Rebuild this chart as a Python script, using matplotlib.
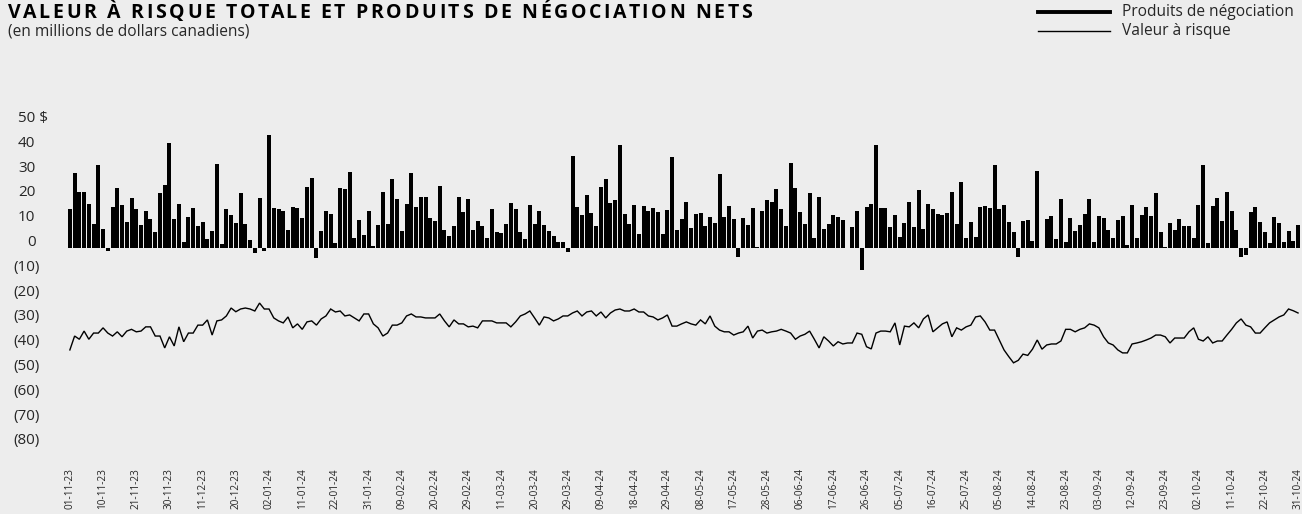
import matplotlib
matplotlib.use("Agg")
import matplotlib.pyplot as plt
import matplotlib.transforms as mtrans
from matplotlib.lines import Line2D
from matplotlib.font_manager import FontProperties
import numpy as np

plt.rcParams['font.family'] = ['Open Sans', 'DejaVu Sans']

# produits de négociation nets quotidiens (M$)
revenus = [
    15.5, 30, 22.4, 22.4, 17.5, 9.4, 33.2, 7.4, -1.3, 16.4,
    23.9, 17, 10.3, 19.9, 15.6, 9, 14.6, 11.4, 6.2, 21.9,
    25.1, 42, 11.4, 17.5, 2.2, 12.2, 15.9, 8.6, 10.2, 3.5,
    6.6, 33.6, 1.3, 15.6, 13, 9.8, 21.9, 9.4, 3, -2.2,
    19.9, -1.3, 45.3, 15.9, 15.6, 14.6, 7, 16.3, 15.9, 11.8,
    24.3, 28, -4.4, 6.6, 14.6, 13.4, 1.7, 23.9, 23.5, 30.4,
    3.8, 11, 5, 14.6, 0.5, 9, 22.3, 9.4, 27.6, 19.5,
    6.6, 17.5, 30, 16.3, 20.3, 20.3, 11.8, 10.6, 24.7, 7,
    4.6, 8.6, 20.3, 14.2, 19.5, 7, 10.6, 8.6, 3.8, 15.5,
    6.2, 5.8, 9.4, 17.9, 15.5, 6.2, 3.4, 17, 9.4, 14.6,
    9, 6.6, 4.6, 2.2, 2.2, -1.9, 36.8, 16.3, 13, 21.1,
    13.8, 8.6, 24.3, 27.6, 17.9, 19.1, 41.3, 13.4, 9.4, 17,
    5.4, 16.7, 14.6, 15.9, 14.2, 5.4, 15.1, 36.4, 7, 11.4,
    18.3, 7.8, 13.4, 13.8, 8.6, 12.2, 9.8, 29.6, 12.2, 16.7,
    11.4, -3.9, 11.8, 9, 15.9, 0.3, 14.6, 19.1, 18.3, 23.5,
    15.5, 8.6, 34, 23.9, 14.2, 9.4, 21.9, 3.8, 20.3, 7.4,
    9.4, 13, 12.2, 11, -0.2, 8.2, 14.6, -9, 16.3, 17.5,
    41.3, 15.9, 15.9, 8.2, 13, 4.2, 9.8, 18.3, 8.2, 23.1,
    7.4, 17.5, 15.5, 13.4, 13, 13.8, 22.3, 9.4, 26.3, 3.8,
    10.2, 4.2, 16.3, 16.7, 15.9, 33.2, 15.5, 17, 10.2, 6.2,
    -3.8, 10.6, 11, 2.6, 30.8, -0.2, 11.4, 12.6, 3.4, 19.5,
    2.2, 11.8, 6.6, 9, 13.4, 19.5, 2.2, 12.6, 11.8, 7,
    3.8, 11, 12.6, 0.9, 17, 3.8, 13, 16.3, 12.6, 21.9,
    6.2, 0.1, 9.8, 7, 11.4, 8.6, 8.6, 3.8, 17, 33.2,
    1.7, 16.7, 19.9, 10.6, 22.3, 14.6, 7, -3.8, -3, 14.2,
    16.3, 10.2, 6.2, 1.7, 12.2, 9.8, 2.2, 6.6, 2.6, 9,
]

# valeur à risque totale (M$)
var_totale = [
    -41.3, -35.7, -37, -33.7, -37, -34.5, -34.5, -32.4, -34.5, -35.7,
    -34, -36, -33.7, -33, -34, -33.7, -32, -32, -35.7, -35.7,
    -40.5, -36, -39.7, -32, -38, -34.5, -34.5, -31.3, -31.3, -29.2,
    -35.3, -29.6, -29.2, -27.6, -24.4, -25.9, -24.8, -24.4, -24.8, -25.6,
    -22.4, -24.8, -24.8, -28.4, -29.6, -30.4, -28, -32.4, -30.8, -33,
    -30, -29.6, -31.3, -28.8, -27.6, -24.8, -26, -25.6, -27.6, -27.2,
    -28.4, -29.6, -26.8, -26.8, -30.8, -32.4, -35.7, -34.5, -31.3, -31.3,
    -30.4, -27.6, -26.8, -28, -28, -28.4, -28.4, -28.4, -26.8, -29.6,
    -32, -29.2, -30.8, -30.8, -32, -31.7, -32.4, -29.6, -29.6, -29.6,
    -30.4, -30.4, -30.4, -32, -30, -27.6, -26.8, -25.6, -28.4, -31.3,
    -28, -28.4, -29.6, -28.8, -27.6, -27.6, -26.4, -25.6, -27.6, -26,
    -25.6, -27.6, -26, -28.4, -26.4, -25.2, -24.8, -25.6, -25.6, -24.8,
    -26, -26, -27.6, -28, -29.2, -28.4, -27.2, -31.7, -31.7, -30.8,
    -30, -30.8, -31.3, -29.2, -30.8, -27.6, -31.7, -33.3, -34, -34,
    -35.3, -34.5, -34, -31.7, -36.5, -33.7, -33.3, -34.5, -34, -33.7,
    -33, -33.7, -34.5, -37, -35.7, -35, -33.7, -37, -40.5, -36,
    -37.7, -39.7, -38, -38.9, -38.5, -38.5, -34.5, -35, -40, -40.9,
    -34.5, -33.7, -33.7, -34, -30.4, -39.3, -31.7, -32, -30.4, -32.4,
    -28.8, -27.2, -34, -32.4, -30.8, -30, -36, -32.4, -33.3, -32,
    -31.3, -28, -27.6, -30, -33.3, -33.3, -37.3, -41.3, -44, -46.5,
    -45.5, -43, -43.5, -41, -37.3, -41, -39.3, -38.9, -38.9, -37.7,
    -33, -33, -34, -33, -32.4, -30.8, -31.3, -32.4, -36, -38.5,
    -39.3, -41.3, -42.5, -42.5, -38.9, -38.5, -38, -37.3, -36.5, -35.3,
    -35.3, -36, -38.5, -36.5, -36.5, -36.5, -34, -32.4, -37, -37.7,
    -36, -38.5, -37.7, -37.7, -35.3, -33, -30.4, -28.8, -31.3, -32,
    -34.5, -34.5, -32.4, -30.4, -29.2, -28, -27.2, -24.8, -25.5, -26.4,
]

etiquettes_dates = [
    "01-11-23", "10-11-23", "21-11-23", "30-11-23", "11-12-23", "20-12-23",
    "02-01-24", "11-01-24", "22-01-24", "31-01-24", "09-02-24", "20-02-24",
    "29-02-24", "11-03-24", "20-03-24", "29-03-24", "09-04-24", "18-04-24",
    "29-04-24", "08-05-24", "17-05-24", "28-05-24", "06-06-24", "17-06-24",
    "26-06-24", "05-07-24", "16-07-24", "25-07-24", "05-08-24", "14-08-24",
    "23-08-24", "03-09-24", "12-09-24", "23-09-24", "02-10-24", "11-10-24",
    "22-10-24", "31-10-24",
]
pas_etiquettes = 7

graduations = [50, 40, 30, 20, 10, 0, -10, -20, -30, -40, -50, -60, -70, -80]

W, H = 1302, 514
fond = "#ededed"
gris = "#262626"

fig = plt.figure(figsize=(W / 100, H / 100), dpi=100, facecolor=fond)

# axes en pixels
x0, x1 = 67.5, 1300.4
y_haut, y_bas = 100, 460
zero_px, px_par_unite = 247.5, 2.48
ax = fig.add_axes([x0 / W, 1 - y_bas / H, (x1 - x0) / W, (y_bas - y_haut) / H])
ax.set_facecolor(fond)
n = len(revenus)
x = np.arange(n)
ax.set_xlim(-0.5, n - 0.5)
ax.set_ylim(-(y_bas - zero_px) / px_par_unite, (zero_px - y_haut) / px_par_unite)
for s in ax.spines.values():
    s.set_visible(False)
ax.set_xticks([])
ax.set_yticks([])

ax.bar(x, revenus, width=0.84, color="black", linewidth=0)
ax.plot(x, var_totale, color="black", lw=1.0, solid_joinstyle="miter")

# étiquettes de l'axe y (décalées vers le haut comme dans l'original)
decal = mtrans.ScaledTranslation(0, 5 / 100, fig.dpi_scale_trans)
tr_y = mtrans.blended_transform_factory(fig.transFigure, ax.transData) + decal
for v in graduations:
    if v == 50:
        ax.text(17.5 / W, v, "50 $", transform=tr_y, ha="left", va="center",
                fontsize=11, color=gris)
    elif v < 0:
        ax.text(40 / W, v, "(%d)" % -v, transform=tr_y, ha="right", va="center",
                fontsize=11, color=gris)
    else:
        ax.text(35.5 / W, v, "%d" % v, transform=tr_y, ha="right", va="center",
                fontsize=11, color=gris)

# étiquettes de dates
tr_x = mtrans.blended_transform_factory(ax.transData, fig.transFigure)
for i, lab in enumerate(etiquettes_dates):
    ax.text(i * pas_etiquettes, 1 - 468 / H, lab, transform=tr_x, rotation=90,
            ha="center", va="top", fontsize=7.2, color=gris)

# titre avec interlettrage (lettre par lettre)
titre = "VALEUR À RISQUE TOTALE ET PRODUITS DE NÉGOCIATION NETS"
fp_titre = FontProperties(family=['Open Sans', 'DejaVu Sans'], weight="bold", size=14)
renderer = fig.canvas.get_renderer()
def largeur(s):
    if not s:
        return 0.0
    w, h, d = renderer.get_text_width_height_descent(s, fp_titre, ismath=False)
    return w
gauche, droite = 8, 752
interl = (droite - gauche - largeur(titre)) / (len(titre) - 1)
for i, c in enumerate(titre):
    if c == " ":
        continue
    xp = gauche + largeur(titre[:i]) + i * interl
    fig.text(xp / W, 1 - 13 / H, c, ha="left", va="center", fontproperties=fp_titre,
             color="black")

fig.text(8 / W, 1 - 31 / H, "(en millions de dollars canadiens)", ha="left", va="center",
         fontsize=11.2, color=gris)

# légende
fig.add_artist(Line2D([1038 / W, 1110 / W], [1 - 12 / H, 1 - 12 / H], color="black", lw=2.8,
                      transform=fig.transFigure))
fig.add_artist(Line2D([1038 / W, 1110 / W], [1 - 31 / H, 1 - 31 / H], color="black", lw=1.0,
                      transform=fig.transFigure))
fig.text(1122 / W, 1 - 12 / H, "Produits de négociation", ha="left", va="center",
         fontsize=11.2, color=gris)
fig.text(1122 / W, 1 - 31 / H, "Valeur à risque", ha="left", va="center",
         fontsize=11.2, color=gris)

fig.savefig("out.png", dpi=100, facecolor=fond)
